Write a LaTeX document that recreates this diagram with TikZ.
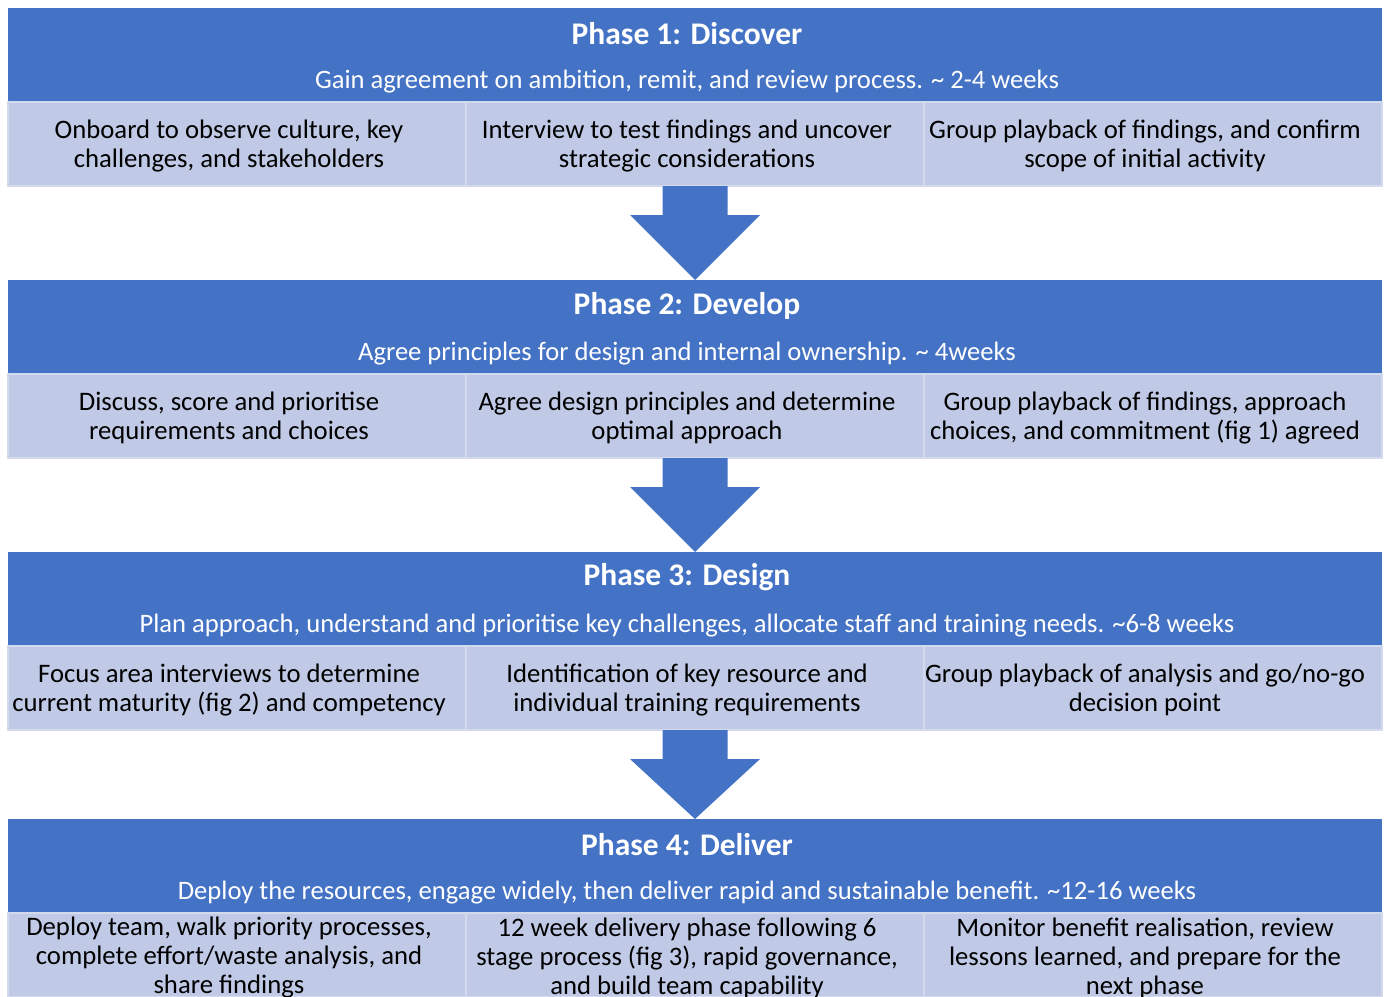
\documentclass[tikz,border=0pt]{standalone}
\usepackage{fontspec}
\setmainfont{Carlito}
\usetikzlibrary{calc}
\definecolor{phaseblue}{HTML}{4472C4}
\definecolor{cellfill}{HTML}{C0CAE6}
\definecolor{cellline}{HTML}{D3DAEE}
\begin{document}
\begin{tikzpicture}[x=1pt,y=-1pt,
 header/.style={fill=phaseblue, draw=none, minimum width=1374pt, minimum height=94pt, anchor=north west, inner sep=0pt, outer sep=0pt},
 ptitle/.style={text=white, font=\fontsize{31.5}{34}\selectfont\bfseries, inner sep=0pt},
 psub/.style={text=white, font=\fontsize{26.6}{29}\selectfont, inner sep=0pt},
 cell/.style={fill=cellfill, draw=cellline, line width=1.5pt, minimum width=458pt, minimum height=84pt, anchor=north west, inner sep=0pt, outer sep=0pt},
 celltext/.style={align=center, font=\fontsize{26.7}{29}\selectfont, inner sep=0pt},
 blockarrow/.style={fill=phaseblue}]
\useasboundingbox (0,0) rectangle (1389,996);
\clip (0,0) rectangle (1389,996);
\fill[white] (0,0) rectangle (1389,996);

% Phase 1
\node[header] (h1) at (8,8) {};
\node[ptitle] (t1) at ($(h1.north)+(-8,25.5)$) {Phase 1: Discover};
\node[psub] (s1) at ($(h1.north)+(-8,74)$) {Gain agreement on ambition, remit, and review process. \textasciitilde{} 2-4 weeks};
\node[cell] (c11) at (8,102) {};
\node[cell] (c12) at (466,102) {};
\node[cell] (c13) at (924,102) {};
\node[celltext] (x11) at ($(c11.center)+(-8,2)$) {Onboard to observe culture, key\\challenges, and stakeholders};
\node[celltext] (x12) at ($(c12.center)+(-8,2)$) {Interview to test findings and uncover\\strategic considerations};
\node[celltext] (x13) at ($(c13.center)+(-8,2)$) {Group playback of findings, and confirm\\scope of initial activity};

% Phase 2
\node[header] (h2) at (8,280) {};
\node[ptitle] (t2) at ($(h2.north)+(-8,25.5)$) {Phase 2: Develop};
\node[psub] (s2) at ($(h2.north)+(-8,74)$) {Agree principles for design and internal ownership. \textasciitilde{} 4weeks};
\node[cell] (c21) at (8,374) {};
\node[cell] (c22) at (466,374) {};
\node[cell] (c23) at (924,374) {};
\node[celltext] (x21) at ($(c21.center)+(-8,2)$) {Discuss, score and prioritise\\requirements and choices};
\node[celltext] (x22) at ($(c22.center)+(-8,2)$) {Agree design principles and determine\\optimal approach};
\node[celltext] (x23) at ($(c23.center)+(-8,2)$) {Group playback of findings, approach\\choices, and commitment (fig 1) agreed};

% Phase 3
\node[header] (h3) at (8,552) {};
\node[ptitle] (t3) at ($(h3.north)+(-8,25.5)$) {Phase 3: Design};
\node[psub] (s3) at ($(h3.north)+(-8,74)$) {Plan approach, understand and prioritise key challenges, allocate staff and training needs. \textasciitilde6-8 weeks};
\node[cell] (c31) at (8,646) {};
\node[cell] (c32) at (466,646) {};
\node[cell] (c33) at (924,646) {};
\node[celltext] (x31) at ($(c31.center)+(-8,2)$) {Focus area interviews to determine\\current maturity (fig 2) and competency};
\node[celltext] (x32) at ($(c32.center)+(-8,2)$) {Identification of key resource and\\individual training requirements};
\node[celltext] (x33) at ($(c33.center)+(-8,2)$) {Group playback of analysis and go/no-go\\decision point};

% Phase 4
\node[header] (h4) at (8,819) {};
\node[ptitle] (t4) at ($(h4.north)+(-8,25.5)$) {Phase 4: Deliver};
\node[psub] (s4) at ($(h4.north)+(-8,74)$) {Deploy the resources, engage widely, then deliver rapid and sustainable benefit. \textasciitilde12-16 weeks};
\node[cell] (c41) at (8,913) {};
\node[cell] (c42) at (466,913) {};
\node[cell] (c43) at (924,913) {};
\node[celltext] (x41) at ($(c41.center)+(-8,3)$) {Deploy team, walk priority processes,\\complete effort/waste analysis, and\\share findings};
\node[celltext] (x42) at ($(c42.center)+(-8,3)$) {12 week delivery phase following 6\\stage process (fig 3), rapid governance,\\and build team capability};
\node[celltext] (x43) at ($(c43.center)+(-8,3)$) {Monitor benefit realisation, review\\lessons learned, and prepare for the\\next phase};

% Block arrows
\foreach \a/\b in {c12/h2, c22/h3, c32/h4}{
  \fill[blockarrow] ($(\a.south)+(-32.5,0)$) -- ($(\a.south)+(32.5,0)$) -- ($(\a.south)+(32.5,29)$) -- ($(\a.south)+(65,29)$) -- (\b.north) -- ($(\a.south)+(-65,29)$) -- ($(\a.south)+(-32.5,29)$) -- cycle;
}
\end{tikzpicture}
\end{document}
